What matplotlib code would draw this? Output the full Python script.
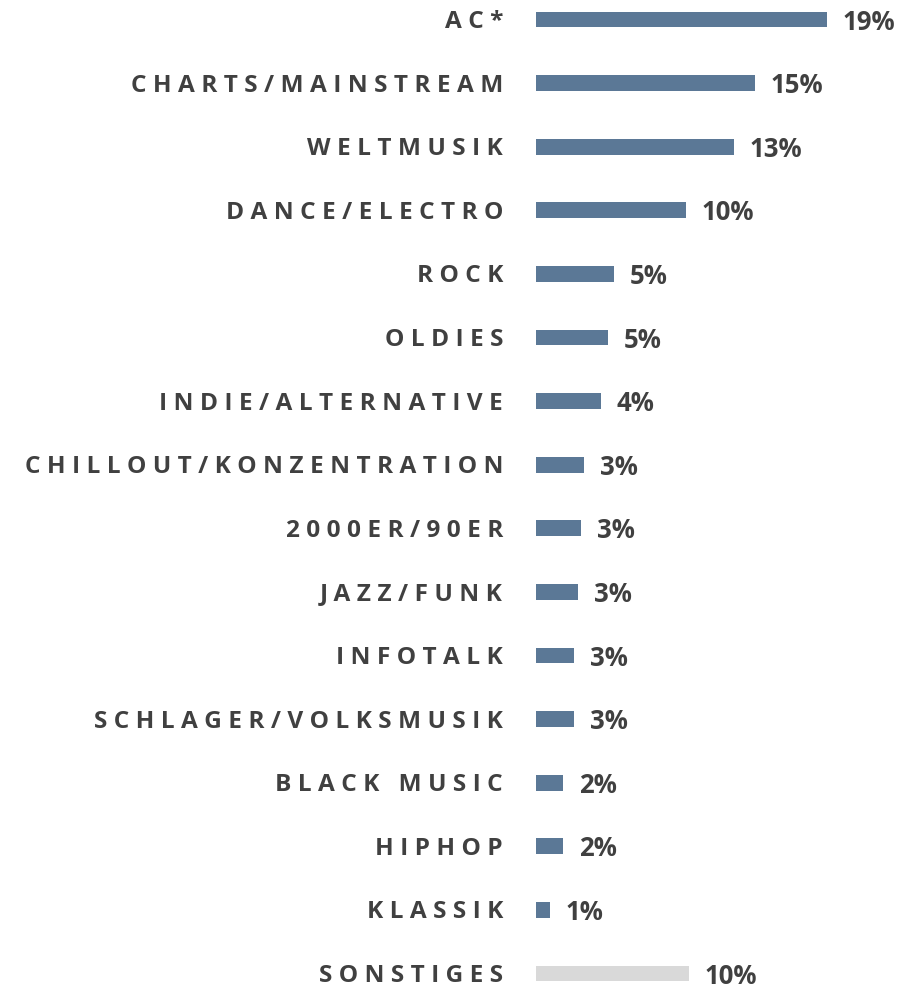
import matplotlib
matplotlib.use("Agg")
import matplotlib.pyplot as plt

# genre shares in percent
genres = [
    "AC*", "CHARTS/MAINSTREAM", "WELTMUSIK", "DANCE/ELECTRO", "ROCK",
    "OLDIES", "INDIE/ALTERNATIVE", "CHILLOUT/KONZENTRATION", "2000ER/90ER",
    "JAZZ/FUNK", "INFOTALK", "SCHLAGER/VOLKSMUSIK", "BLACK MUSIC", "HIPHOP",
    "KLASSIK", "SONSTIGES",
]
shares = [19.4, 14.6, 13.2, 10.0, 5.2, 4.8, 4.3, 3.2, 3.0, 2.8, 2.5, 2.5,
          1.8, 1.8, 0.9, 10.2]
labels = ["19%", "15%", "13%", "10%", "5%", "5%", "4%", "3%", "3%", "3%",
          "3%", "3%", "2%", "2%", "1%", "10%"]

BLUE = "#5b7896"
GREY = "#d9d9d9"
TEXT = "#404040"


def spaced(s):
    # fake letter spacing: a space between letters, wider gap between words
    return "   ".join(" ".join(w) for w in s.split(" "))


W, H = 921, 986
fig = plt.figure(figsize=(W / 100, H / 100), dpi=100)
x0 = 536
ax = fig.add_axes([x0 / W, 0, 1 - x0 / W, 1])

px_per_unit = 15.0
ax.set_xlim(0, (W - x0) / px_per_unit)
step = 63.6
top = 19.5
ax.set_ylim((H - top) / step, -top / step)
ax.axis("off")

pos = list(range(len(genres)))
colors = [BLUE] * (len(genres) - 1) + [GREY]
ax.barh(pos, shares, height=0.25, color=colors, edgecolor="none")

for i, (g, v, lab) in enumerate(zip(genres, shares, labels)):
    ax.text(-33 / px_per_unit, i + 2.5 / step, spaced(g), ha="right",
            va="center", fontsize=17.6, fontweight="bold", family="Open Sans",
            color=TEXT, clip_on=False)
    ax.text(v + 16 / px_per_unit, i + 2.5 / step, lab, ha="left", va="center",
            fontsize=18.5, fontweight="bold", family="Open Sans",
            color=TEXT)

fig.savefig("out.png", dpi=100)
